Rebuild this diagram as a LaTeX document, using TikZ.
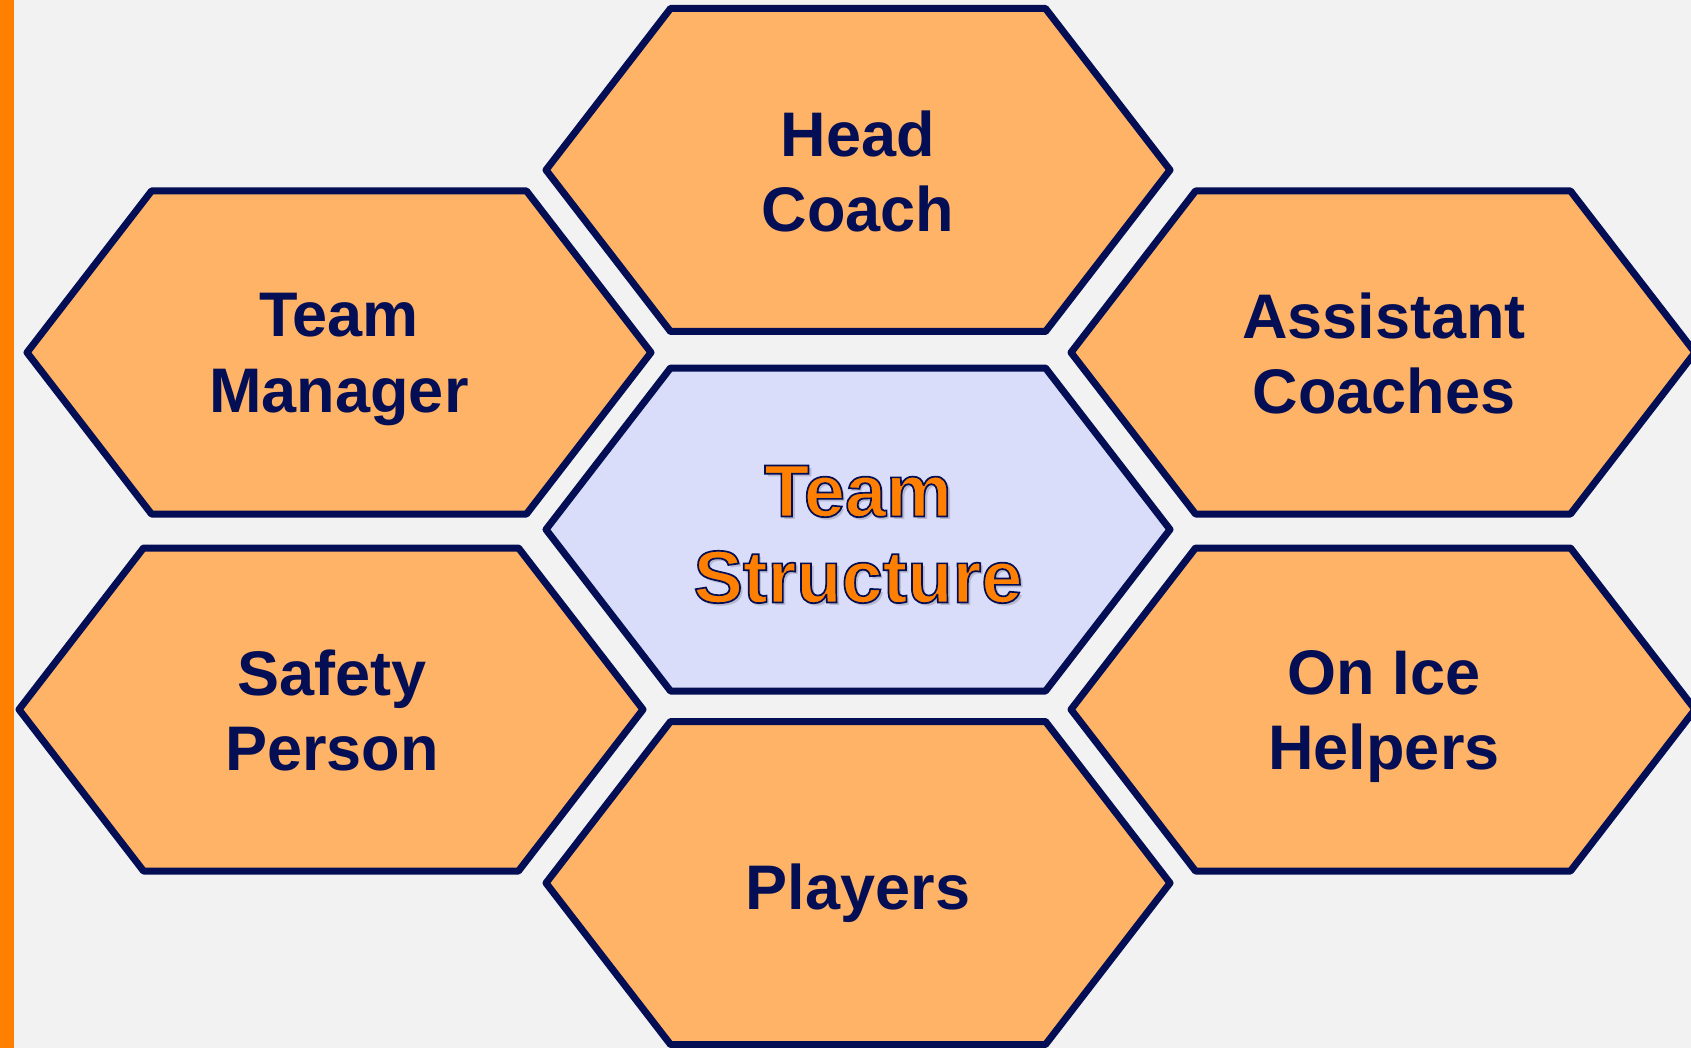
\documentclass[tikz,border=0pt]{standalone}
\usepackage{fontspec}
\setmainfont{Liberation Sans}
\usetikzlibrary{positioning}
\definecolor{navy}{HTML}{040E54}
\definecolor{cellorange}{HTML}{FFB366}
\definecolor{hublilac}{HTML}{DADDF9}
\definecolor{paper}{HTML}{F2F2F2}
\definecolor{stripe}{HTML}{FF8000}
% stroked (outlined) glyphs in the current text
\newcommand\rimon{\special{pdf:literal direct 2 Tr 1.7 w 0.016 0.055 0.329 RG}}
\newcommand\rimoff{\special{pdf:literal direct 0 Tr}}
\tikzset{
  % Hexagon cell
  cell/.style={draw=navy, line width=7pt, line join=round, fill=cellorange},
  % Hub cell in the middle
  hub/.style={cell, fill=hublilac},
  % Text of a cell
  celltext/.style={align=center, text=navy, inner sep=0pt, text depth=0pt,
    font=\bfseries\fontsize{63}{75.5}\selectfont},
  % Text of the hub
  hubtext/.style={celltext, text=stripe,
    font=\bfseries\fontsize{74}{86}\selectfont},
  % Shadow under the hub text
  hubshade/.style={hubtext, text=black, opacity=0.16},
}
\newcommand\hexpath{(-312,0) -- (-187.5,-161.5) -- (187.5,-161.5) -- (312,0)
  -- (187.5,161.5) -- (-187.5,161.5) -- cycle}
\begin{document}
\begin{tikzpicture}[x=1pt, y=-1pt]
  \useasboundingbox (0,0) rectangle (1691,1048);
  \fill[paper] (0,0) rectangle (1691,1048);
  \fill[stripe] (0,0) rectangle (14,1048);

  % cells
  \draw[cell, shift={(858,170)}] \hexpath;
  \draw[cell, shift={(339,352.5)}] \hexpath;
  \draw[cell, shift={(1383,352.5)}] \hexpath;
  \draw[hub, shift={(858,529.5)}] \hexpath;
  \draw[cell, shift={(331,709.5)}] \hexpath;
  \draw[cell, shift={(1383,709.5)}] \hexpath;
  \draw[cell, shift={(858,883)}] \hexpath;

  % texts
  \node[celltext] (head) at (858,171) {Head\\Coach};
  \node[celltext] (manager) at (339,353) {Team\\Manager};
  \node[celltext] (assistant) at (1384,353) {Assistant\\Coaches};
  \node[celltext] (safety) at (332,710) {Safety\\Person};
  \node[celltext] (helpers) at (1384,710) {On Ice\\Helpers};
  \node[celltext] (players) at (858,887) {Players};
  \node[hubshade] (hubshadow) at (861,537) {Team\\Structure};
  \node[hubtext] (hub) at (858,534) {\rimon Team\\\rimon Structure\rimoff};
\end{tikzpicture}
\end{document}
